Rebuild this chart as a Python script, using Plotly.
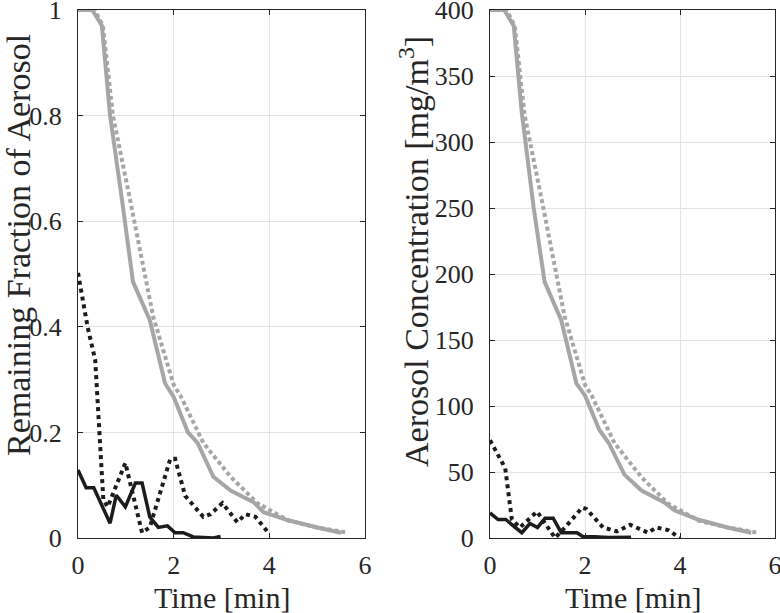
import plotly.graph_objects as go

# ---------------- data ----------------
# Left panel: remaining fraction of aerosol
t_gray_solid = [0, 0.3, 0.5, 0.67, 0.92, 1.15, 1.5, 1.82, 2.0, 2.3, 2.5, 2.83, 3.19, 3.67, 3.88, 4.38, 5.0, 5.5]
frac_gray_solid = [1, 1, 0.97, 0.8, 0.64, 0.485, 0.413, 0.293, 0.267, 0.2, 0.18, 0.116, 0.09, 0.068, 0.049, 0.034, 0.02, 0.01]

t_gray_dot = [0, 0.35, 0.52, 0.73, 1.09, 1.3, 1.57, 2.0, 2.14, 2.62, 3.19, 3.75, 4.4, 5.0, 5.65]
frac_gray_dot = [1, 1, 0.97, 0.8, 0.64, 0.545, 0.42, 0.29, 0.27, 0.18, 0.116, 0.066, 0.033, 0.02, 0.01]

t_black_dot = [0, 0.2, 0.36, 0.46, 0.53, 0.62, 0.99, 1.34, 1.5, 1.93, 2.03, 2.24, 2.62, 2.77, 3.02, 3.33, 3.5, 3.71, 3.98]
frac_black_dot = [0.502, 0.4, 0.337, 0.18, 0.072, 0.059, 0.142, 0.01, 0.02, 0.15, 0.15, 0.08, 0.04, 0.045, 0.066, 0.03, 0.045, 0.04, 0.01]

t_black_solid = [0, 0.17, 0.33, 0.67, 0.8, 0.99, 1.2, 1.34, 1.5, 1.68, 1.87, 2.03, 2.2, 2.41, 2.83, 2.98]
frac_black_solid = [0.129, 0.095, 0.095, 0.028, 0.081, 0.059, 0.104, 0.104, 0.04, 0.02, 0.023, 0.01, 0.01, 0.002, 0, 0.003]

# Right panel: aerosol concentration [mg/m^3]
conc_gray_solid = [400, 400, 388, 322, 250, 194, 165, 117, 108, 82, 72, 48, 36, 27, 21, 14, 8, 4]
conc_gray_dot = [400, 400, 388, 320, 256, 218, 168, 116, 108, 72, 46, 26, 13, 8, 4]

t_black_dot_r = [0, 0.32, 0.46, 0.63, 0.99, 1.37, 1.58, 1.94, 2.03, 2.38, 2.67, 2.95, 3.33, 3.5, 3.75, 4.0]
conc_black_dot = [74, 53, 14, 8, 20, 0, 8, 23, 22, 8, 5, 10, 4, 8, 6, 0]

t_black_solid_r = [0, 0.17, 0.33, 0.67, 0.84, 1.0, 1.16, 1.33, 1.5, 1.83, 1.96, 2.2, 2.5, 2.97]
conc_black_solid = [19, 14, 14, 4, 11, 8, 15, 15, 4, 4, 1, 1, 0.3, 0.5]

x_ticks = [0, 2, 4, 6]
frac_ticks = [0, 0.2, 0.4, 0.6, 0.8, 1]
frac_tick_text = ["0", "0.2", "0.4", "0.6", "0.8", "1"]
conc_ticks = [0, 50, 100, 150, 200, 250, 300, 350, 400]

# ---------------- styling ----------------
W, H = 780, 613
FONT = "Liberation Serif"
GRAY = "#a6a6a6"
BLACK = "#1c1c1c"
AX = "#262626"
GRID = "#e3e3e3"

fig = go.Figure()

def add(x, y, color, dash, width, xa, ya):
    fig.add_trace(go.Scatter(x=x, y=y, mode="lines", xaxis=xa, yaxis=ya,
                             line=dict(color=color, width=width, dash=dash),
                             showlegend=False, hoverinfo="skip"))

add(t_gray_solid, frac_gray_solid, GRAY, "solid", 4, "x", "y")
add(t_gray_dot, frac_gray_dot, GRAY, "4px,3px", 4, "x", "y")
add(t_black_dot, frac_black_dot, BLACK, "4px,4px", 4, "x", "y")
add(t_black_solid, frac_black_solid, BLACK, "solid", 3.5, "x", "y")

add(t_gray_solid, conc_gray_solid, GRAY, "solid", 4, "x2", "y2")
add(t_gray_dot, conc_gray_dot, GRAY, "4px,3px", 4, "x2", "y2")
add(t_black_dot_r, conc_black_dot, BLACK, "4px,4px", 4, "x2", "y2")
add(t_black_solid_r, conc_black_solid, BLACK, "solid", 3.5, "x2", "y2")

ydom = [(H - 538) / H, (H - 10) / H]
common_ax = dict(showline=True, linecolor=AX, linewidth=1, mirror="allticks",
                 ticks="inside", ticklen=5, tickcolor=AX, tickwidth=1,
                 showgrid=True, gridcolor=GRID, gridwidth=1, zeroline=False,
                 ticklabeloverflow="allow", automargin=False,
                 tickfont=dict(family=FONT, size=26, color=AX))

fig.update_layout(
    template="none",
    width=W, height=H,
    margin=dict(l=0, r=0, t=0, b=0, autoexpand=False),
    paper_bgcolor="white", plot_bgcolor="white",
    xaxis=dict(domain=[78 / W, 365 / W], range=[0, 6], tickvals=x_ticks,
               anchor="y", ticklabelstandoff=4, **common_ax),
    yaxis=dict(domain=ydom, range=[0, 1], tickvals=frac_ticks, ticktext=frac_tick_text,
               anchor="x", ticklabelstandoff=10, **common_ax),
    xaxis2=dict(domain=[490 / W, 775 / W], range=[0, 6], tickvals=x_ticks,
                anchor="y2", ticklabelstandoff=4, **common_ax),
    yaxis2=dict(domain=ydom, range=[0, 400], tickvals=conc_ticks,
                anchor="x2", ticklabelstandoff=10, **common_ax),
)

title_font = dict(family=FONT, size=30, color=AX)
ytitle_font = dict(family=FONT, size=34, color=AX)
fig.add_annotation(text="Time [min]", xref="paper", yref="paper",
                   x=(78 + 365) / 2 / W, y=1 - 597 / H, showarrow=False,
                   font=title_font, xanchor="center", yanchor="middle")
fig.add_annotation(text="Time [min]", xref="paper", yref="paper",
                   x=(490 + 775) / 2 / W, y=1 - 597 / H, showarrow=False,
                   font=title_font, xanchor="center", yanchor="middle")
fig.add_annotation(text="Remaining Fraction of Aerosol", xref="paper", yref="paper",
                   x=18 / W, y=1 - 245 / H, showarrow=False, textangle=-90,
                   font=ytitle_font, xanchor="center", yanchor="middle")
fig.add_annotation(text="Aerosol Concentration [mg/m<sup>3</sup>]", xref="paper", yref="paper",
                   x=414 / W, y=1 - 252 / H, showarrow=False, textangle=-90,
                   font=ytitle_font, xanchor="center", yanchor="middle")

fig.write_html("out.html", config={"displayModeBar": False},
               post_script="document.body.style.margin='0px';document.body.style.overflow='hidden';")
